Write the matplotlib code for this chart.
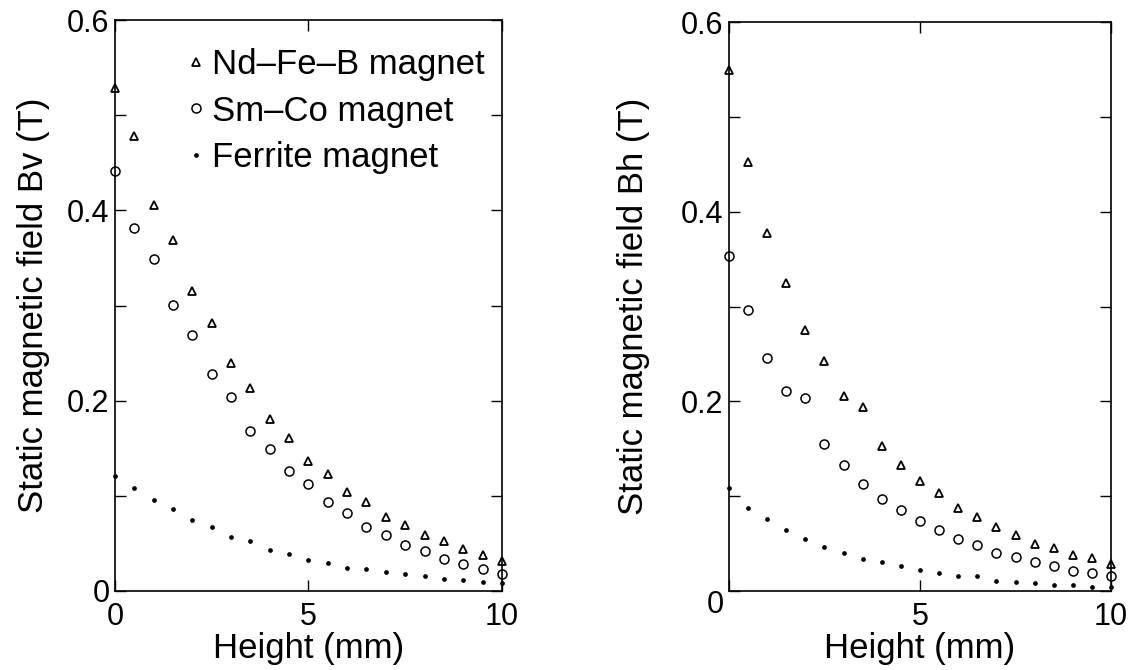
import matplotlib
matplotlib.use("Agg")
import matplotlib.pyplot as plt
from matplotlib.ticker import MultipleLocator, FixedLocator

plt.rcParams['font.family'] = ['Liberation Sans', 'DejaVu Sans']

# ── Données ──────────────────────────────────────────────────────────────────
height = [0.0, 0.5, 1.0, 1.5, 2.0, 2.5, 3.0, 3.5, 4.0, 4.5, 5.0,
          5.5, 6.0, 6.5, 7.0, 7.5, 8.0, 8.5, 9.0, 9.5, 10.0]

bv_ndfeb = [0.529, 0.478, 0.406, 0.369, 0.315, 0.282, 0.240, 0.213, 0.181, 0.161, 0.137,
            0.123, 0.104, 0.093, 0.078, 0.069, 0.059, 0.052, 0.044, 0.038, 0.031]
bv_smco = [0.441, 0.382, 0.349, 0.301, 0.269, 0.228, 0.204, 0.168, 0.149, 0.126, 0.112,
           0.093, 0.082, 0.067, 0.059, 0.048, 0.042, 0.034, 0.028, 0.023, 0.018]
bv_ferrite = [0.121, 0.108, 0.096, 0.086, 0.075, 0.067, 0.057, 0.052, 0.043, 0.039, 0.033,
              0.029, 0.024, 0.023, 0.020, 0.018, 0.016, 0.013, 0.011, 0.009, 0.008]

bh_ndfeb = [0.550, 0.452, 0.378, 0.325, 0.275, 0.243, 0.206, 0.194, 0.153, 0.133, 0.116,
            0.103, 0.087, 0.078, 0.067, 0.059, 0.050, 0.045, 0.038, 0.035, 0.028]
bh_smco = [0.353, 0.296, 0.246, 0.211, 0.204, 0.155, 0.133, 0.113, 0.097, 0.085, 0.074,
           0.064, 0.055, 0.048, 0.040, 0.036, 0.030, 0.026, 0.021, 0.019, 0.016]
bh_ferrite = [0.109, 0.088, 0.076, 0.064, 0.055, 0.046, 0.040, 0.034, 0.030, 0.026, 0.022,
              0.019, 0.016, 0.016, 0.011, 0.009, 0.008, 0.006, 0.006, 0.004, 0.004]

labels = ["Nd\u2013Fe\u2013B magnet", "Sm\u2013Co magnet", "Ferrite magnet"]

FS_TICK = 22
FS_LAB = 25

# ── Figure ───────────────────────────────────────────────────────────────────
fig = plt.figure(figsize=(11.33, 6.70), dpi=100, facecolor="white")
ax1 = fig.add_axes([0.1015, 0.118, 0.3415, 0.852])
ax2 = fig.add_axes([0.6434, 0.118, 0.3372, 0.849])


def panel(ax, nd, sm, fe, ylabel, ypad):
    ax.plot(height, nd, ls="none", marker="^", ms=5.5, mfc="white", mec="black",
            mew=1.3, clip_on=False, label=labels[0])
    ax.plot(height, sm, ls="none", marker="o", ms=6.5, mfc="white", mec="black",
            mew=1.1, clip_on=False, label=labels[1])
    ax.plot(height, fe, ls="none", marker="o", ms=3.4, mfc="black", mec="black",
            mew=0, clip_on=False, label=labels[2])

    ax.set_xlim(0, 10)
    ax.set_ylim(0, 0.6)
    for s in ax.spines.values():
        s.set_linewidth(1.2)

    ax.xaxis.set_major_locator(FixedLocator([0, 5, 10]))
    ax.yaxis.set_major_locator(FixedLocator([0, 0.2, 0.4, 0.6]))
    ax.yaxis.set_minor_locator(MultipleLocator(0.1))
    ax.tick_params(which="both", direction="in", top=True, right=True,
                   length=8, width=1.0, labelsize=FS_TICK)
    ax.tick_params(axis="x", pad=8)
    ax.tick_params(axis="y", pad=4)
    ax.set_yticklabels(["0", "0.2", "0.4", "0.6"])
    ax.set_xlabel("Height (mm)", fontsize=FS_LAB, labelpad=0)
    ax.set_ylabel(ylabel, fontsize=FS_LAB, labelpad=ypad)


panel(ax1, bv_ndfeb, bv_smco, bv_ferrite, "Static magnetic field Bv (T)", 12)
panel(ax2, bh_ndfeb, bh_smco, bh_ferrite, "Static magnetic field Bh (T)", 22)

# panneau de droite : un seul "0" dans le coin
ax2.set_yticklabels(["", "0.2", "0.4", "0.6"])
ax2.set_xticklabels(["", "5", "10"])
ax2.text(-0.037, -0.025, "0", transform=ax2.transAxes, fontsize=FS_TICK,
         ha="center", va="center")

ax1.legend(loc="upper left", bbox_to_anchor=(0.178, 0.951), frameon=False,
           fontsize=FS_LAB, handlelength=0.7, handletextpad=0.12,
           labelspacing=0.39, borderpad=0, borderaxespad=0, numpoints=1)

fig.savefig("out.png", dpi=100, facecolor="white")
